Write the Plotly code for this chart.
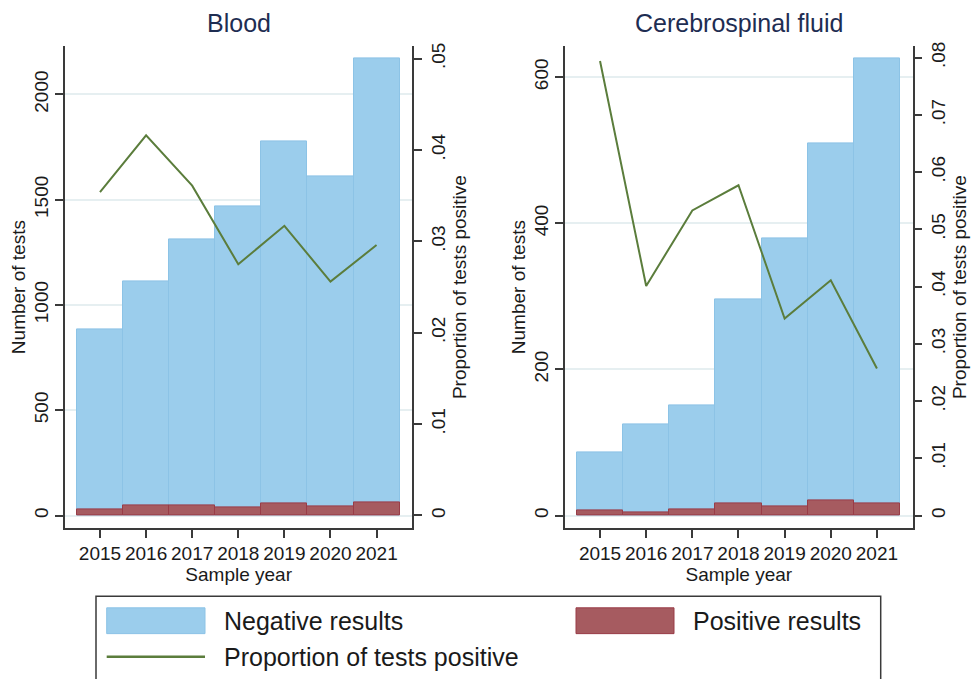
import plotly.graph_objects as go

# ---------------- data ----------------
years = [2015, 2016, 2017, 2018, 2019, 2020, 2021]

blood_total = [884, 1112, 1312, 1468, 1777, 1612, 2170]
blood_positive = [31, 46, 49, 39, 57, 41, 63]
blood_proportion = [0.0354, 0.0416, 0.0361, 0.0275, 0.0317, 0.0256, 0.0296]

csf_total = [87, 125, 151, 296, 379, 510, 625]
csf_positive = [7, 5, 8, 17, 13, 21, 16]
csf_proportion = [0.0794, 0.0401, 0.0533, 0.0577, 0.0344, 0.0411, 0.0257]

blood_left_ticks = [0, 500, 1000, 1500, 2000]
blood_right_ticks = [0, 0.01, 0.02, 0.03, 0.04, 0.05]
blood_right_labels = ["0", ".01", ".02", ".03", ".04", ".05"]
csf_left_ticks = [0, 200, 400, 600]
csf_right_ticks = [0, 0.01, 0.02, 0.03, 0.04, 0.05, 0.06, 0.07, 0.08]
csf_right_labels = ["0", ".01", ".02", ".03", ".04", ".05", ".06", ".07", ".08"]

panel_titles = ["Blood", "Cerebrospinal fluid"]
legend_labels = ["Negative results", "Positive results", "Proportion of tests positive"]

# ---------------- style ----------------
W, H = 972, 679
FONT = "Liberation Sans, Arial, sans-serif"
BLUE = "#9bcdec"
BLUE_EDGE = "#8cc3e6"
RED = "#a65b60"
RED_EDGE = "#993c47"
GREEN = "#5b7d3c"
AXIS = "#3a3a3a"
GRID = "#e6eff1"
TXT = "#1a1a1a"
NAVY = "#1e2d52"


def px_x(p):
    return p / W


def px_y(p):
    return 1 - p / H


xdom1 = [px_x(65), px_x(412.3)]
xdom2 = [px_x(565), px_x(912.7)]
ydom = [px_y(526.7), px_y(41.7)]
xrange_ = [2014.241, 2021.775]

fig = go.Figure()


def add_panel(total, positive, prop, xa, ya, ya2):
    fig.add_trace(go.Bar(x=years, y=total, xaxis=xa, yaxis=ya, width=1,
                         marker=dict(color=BLUE, line=dict(color=BLUE_EDGE, width=1)),
                         name=legend_labels[0], showlegend=False))
    fig.add_trace(go.Bar(x=years, y=positive, xaxis=xa, yaxis=ya, width=1,
                         marker=dict(color=RED, line=dict(color=RED_EDGE, width=1)),
                         name=legend_labels[1], showlegend=False))
    fig.add_trace(go.Scatter(x=years, y=prop, xaxis=xa, yaxis=ya2, mode="lines",
                             line=dict(color=GREEN, width=2),
                             name=legend_labels[2], showlegend=False))


add_panel(blood_total, blood_positive, blood_proportion, "x", "y", "y2")
add_panel(csf_total, csf_positive, csf_proportion, "x2", "y3", "y4")

tickfont = dict(family=FONT, size=19, color=TXT)
titlefont = dict(family=FONT, size=19, color=TXT)

common_x = dict(range=xrange_, tickvals=years, ticks="outside", ticklen=8, tickwidth=1.5,
                tickcolor=AXIS, showline=True, linecolor=AXIS, linewidth=1.5,
                showgrid=False, zeroline=False, tickfont=tickfont,
                title=dict(text="Sample year", font=titlefont, standoff=0))
common_yl = dict(domain=ydom, ticks="outside", ticklen=8, tickwidth=1.5, tickcolor=AXIS,
                 showline=True, linecolor=AXIS, linewidth=1.5, showgrid=True,
                 gridcolor=GRID, gridwidth=1.5, zeroline=False, tickangle=-90,
                 tickfont=tickfont,
                 title=dict(text="Number of tests", font=titlefont, standoff=0))
common_yr = dict(side="right", ticks="outside", ticklen=8, tickwidth=1.5, tickcolor=AXIS,
                 showline=True, linecolor=AXIS, linewidth=1.5, showgrid=False,
                 zeroline=False, tickangle=-90, tickfont=tickfont,
                 title=dict(text="Proportion of tests positive", font=titlefont, standoff=0))

fig.update_layout(
    width=W, height=H,
    margin=dict(l=0, r=0, t=0, b=0),
    paper_bgcolor="white", plot_bgcolor="white",
    barmode="overlay", bargap=0,
    showlegend=False,
    font=dict(family=FONT, color=TXT),
    xaxis=dict(domain=xdom1, anchor="y", **common_x),
    xaxis2=dict(domain=xdom2, anchor="y3", **common_x),
    yaxis=dict(anchor="x", range=[-58.5, 2228], tickvals=blood_left_ticks, **common_yl),
    yaxis2=dict(anchor="x", overlaying="y", range=[-0.00135, 0.05134],
                tickvals=blood_right_ticks, ticktext=blood_right_labels, **common_yr),
    yaxis3=dict(anchor="x2", range=[-16.8, 642.1], tickvals=csf_left_ticks, **common_yl),
    yaxis4=dict(anchor="x2", overlaying="y3", range=[-0.00215, 0.08196],
                tickvals=csf_right_ticks, ticktext=csf_right_labels, **common_yr),
)

# panel titles
for dom, t in zip([xdom1, xdom2], panel_titles):
    fig.add_annotation(x=(dom[0] + dom[1]) / 2, y=px_y(18), xref="paper", yref="paper",
                       text=t, showarrow=False, xanchor="center", yanchor="middle",
                       font=dict(family=FONT, size=25, color=NAVY))

# legend box (drawn to match the large Stata legend keys)
shapes = [
    dict(type="rect", xref="paper", yref="paper", x0=px_x(96), x1=px_x(880.7),
         y0=px_y(680), y1=px_y(595.7), line=dict(color=AXIS, width=1.5), fillcolor="white", layer="below"),
    dict(type="rect", xref="paper", yref="paper", x0=px_x(106.7), x1=px_x(205),
         y0=px_y(633.3), y1=px_y(607.3), line=dict(color=BLUE_EDGE, width=1), fillcolor=BLUE),
    dict(type="rect", xref="paper", yref="paper", x0=px_x(576), x1=px_x(674),
         y0=px_y(633.3), y1=px_y(607.3), line=dict(color=RED_EDGE, width=1), fillcolor=RED),
    dict(type="line", xref="paper", yref="paper", x0=px_x(106.7), x1=px_x(205),
         y0=px_y(656.7), y1=px_y(656.7), line=dict(color=GREEN, width=2.5)),
]
fig.update_layout(shapes=shapes)

legend_pos = [(221.7, 621), (690.7, 621), (221.7, 657)]
for (lx, ly), t in zip(legend_pos, legend_labels):
    fig.add_annotation(x=px_x(lx), y=px_y(ly), xref="paper", yref="paper", text=t,
                       showarrow=False, xanchor="left", yanchor="middle",
                       font=dict(family=FONT, size=25, color=TXT))

fig.write_html("out.html", config={"displayModeBar": False},
               post_script="document.body.style.margin='0';document.body.style.overflow='hidden';")
